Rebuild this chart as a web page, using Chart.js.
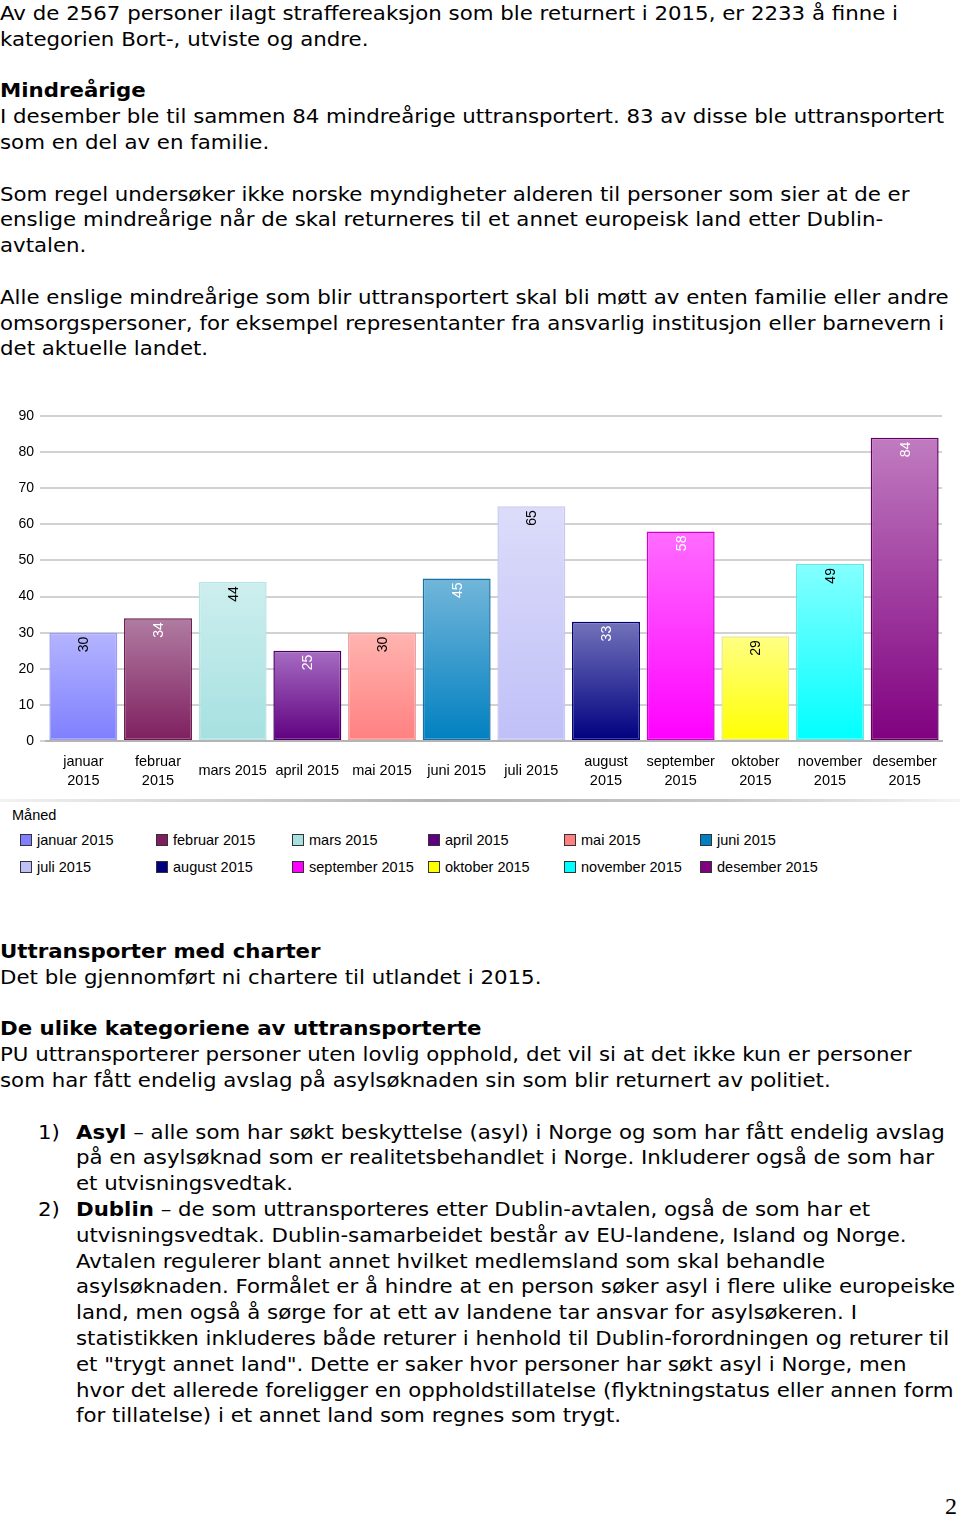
<!DOCTYPE html>
<html>
<head>
<meta charset="utf-8">
<script src="https://cdn.jsdelivr.net/npm/chart.js@4"></script>
<style>
  :root { --k: 1; }
  body { margin: 0; width: 960px; height: 1519px; position: relative; background: #fff; overflow: hidden; }
  .txt { position: absolute; left: 0; font-family: "DejaVu Sans", Verdana, sans-serif; font-size: 20px; line-height: 25.8px; color: #000; }
  .ln { white-space: nowrap; transform: scaleX(var(--k)); transform-origin: 0 0; height: 25.8px; }
  .gap { height: 25.8px; }
  .num { display: inline-block; width: calc(38px / var(--k)); }
  #chartBox { position: absolute; left: 0; top: 400px; width: 960px; height: 400px; }
  #frameLine { position: absolute; left: 0; top: 799px; width: 960px; height: 3px;
    background: linear-gradient(to right, #f2f2f2, #b4b4b4 45%, #c8c8c8 75%, #f4f4f4); }
  #legend { position: absolute; left: 0; top: 807px; font-family: "Liberation Sans", Arial, sans-serif; font-size: 14.5px; color: #000; }
  #legendTitle { position: absolute; left: 12px; top: 0; white-space: nowrap; }
  .item { position: absolute; white-space: nowrap; }
  .sw { display: inline-block; width: 10px; height: 10px; border: 1px solid #333; vertical-align: -1px; margin-right: 5px; }
  #pageNo { position: absolute; right: 3px; top: 1493px; font-family: "Liberation Serif", serif; font-size: 24px; }
</style>
</head>
<body>

<div class="txt" id="block1" style="top:1px">
  <div class="ln"><span id="ref">Av de 2567 personer ilagt straffereaksjon som ble returnert i 2015, er 2233 å finne i</span></div>
  <div class="ln">kategorien Bort-, utviste og andre.</div>
  <div class="gap"></div>
  <div class="ln"><b>Mindreårige</b></div>
  <div class="ln">I desember ble til sammen 84 mindreårige uttransportert. 83 av disse ble uttransportert</div>
  <div class="ln">som en del av en familie.</div>
  <div class="gap"></div>
  <div class="ln">Som regel undersøker ikke norske myndigheter alderen til personer som sier at de er</div>
  <div class="ln">enslige mindreårige når de skal returneres til et annet europeisk land etter Dublin-</div>
  <div class="ln">avtalen.</div>
  <div class="gap"></div>
  <div class="ln">Alle enslige mindreårige som blir uttransportert skal bli møtt av enten familie eller andre</div>
  <div class="ln">omsorgspersoner, for eksempel representanter fra ansvarlig institusjon eller barnevern i</div>
  <div class="ln">det aktuelle landet.</div>
</div>

<div id="chartBox"><canvas id="chart" width="960" height="400"></canvas></div>
<div id="frameLine"></div>
<div id="legend"><div id="legendTitle">Måned</div></div>

<div class="txt" id="block2" style="top:939px">
  <div class="ln"><b>Uttransporter med charter</b></div>
  <div class="ln">Det ble gjennomført ni chartere til utlandet i 2015.</div>
  <div class="gap"></div>
  <div class="ln"><b>De ulike kategoriene av uttransporterte</b></div>
  <div class="ln">PU uttransporterer personer uten lovlig opphold, det vil si at det ikke kun er personer</div>
  <div class="ln">som har fått endelig avslag på asylsøknaden sin som blir returnert av politiet.</div>
  <div class="gap"></div>
  <div class="ln" style="margin-left:38px"><span class="num">1)</span><b>Asyl</b> – alle som har søkt beskyttelse (asyl) i Norge og som har fått endelig avslag</div>
  <div class="ln" style="margin-left:76px">på en asylsøknad som er realitetsbehandlet i Norge. Inkluderer også de som har</div>
  <div class="ln" style="margin-left:76px">et utvisningsvedtak.</div>
  <div class="ln" style="margin-left:38px"><span class="num">2)</span><b>Dublin</b> – de som uttransporteres etter Dublin-avtalen, også de som har et</div>
  <div class="ln" style="margin-left:76px">utvisningsvedtak. Dublin-samarbeidet består av EU-landene, Island og Norge.</div>
  <div class="ln" style="margin-left:76px">Avtalen regulerer blant annet hvilket medlemsland som skal behandle</div>
  <div class="ln" style="margin-left:76px">asylsøknaden. Formålet er å hindre at en person søker asyl i flere ulike europeiske</div>
  <div class="ln" style="margin-left:76px">land, men også å sørge for at ett av landene tar ansvar for asylsøkeren. I</div>
  <div class="ln" style="margin-left:76px">statistikken inkluderes både returer i henhold til Dublin-forordningen og returer til</div>
  <div class="ln" style="margin-left:76px">et "trygt annet land". Dette er saker hvor personer har søkt asyl i Norge, men</div>
  <div class="ln" style="margin-left:76px">hvor det allerede foreligger en oppholdstillatelse (flyktningstatus eller annen form</div>
  <div class="ln" style="margin-left:76px">for tillatelse) i et annet land som regnes som trygt.</div>
</div>

<div id="pageNo">2</div>

<script>
// Data
const months = ['januar 2015', 'februar 2015', 'mars 2015', 'april 2015', 'mai 2015', 'juni 2015',
    'juli 2015', 'august 2015', 'september 2015', 'oktober 2015', 'november 2015', 'desember 2015'];
const tickLabels = [['januar', '2015'], ['februar', '2015'], 'mars 2015', 'april 2015', 'mai 2015', 'juni 2015',
    'juli 2015', ['august', '2015'], ['september', '2015'], ['oktober', '2015'], ['november', '2015'], ['desember', '2015']];
const values = [30, 34, 44, 25, 30, 45, 65, 33, 58, 29, 49, 84];
const yTicks = [0, 10, 20, 30, 40, 50, 60, 70, 80, 90];

// Colours (base = bottom of bar and legend swatch, top = light end of gradient)
const baseColors = ['#7f7fff', '#7f1f5f', '#a6e0e0', '#600080', '#ff8080', '#0080c0',
    '#c0c0f8', '#000080', '#ff00ff', '#ffff00', '#00ffff', '#800080'];
const topColors = ['#b4b4ff', '#b07ca2', '#cdeeee', '#a66cc2', '#ffb4b0', '#72b6da',
    '#dcdcfa', '#7272ba', '#ff6cff', '#ffff84', '#84ffff', '#c07cc0'];
const borderColors = ['#9c9cf0', '#6a1a50', '#b8e4e4', '#4a0064', '#f0a0a0', '#1a70a6',
    '#c8c8f0', '#000070', '#d000d0', '#e8e890', '#60e8e8', '#640064'];
const labelColors = ['#000', '#fff', '#000', '#fff', '#000', '#fff',
    '#000', '#fff', '#fff', '#000', '#000', '#fff'];

// Fit the text width to the reference (Verdana is not installed)
const refWidth = document.getElementById('ref').getBoundingClientRect().width;
document.documentElement.style.setProperty('--k', (898 / refWidth).toFixed(4));

// Legend
const legend = document.getElementById('legend');
months.forEach((m, i) => {
    const item = document.createElement('div');
    item.className = 'item';
    item.style.left = (20 + (i % 6) * 136) + 'px';
    item.style.top = (i < 6 ? 25 : 52) + 'px';
    item.innerHTML = `<span class="sw" style="background:${baseColors[i]}"></span>${m}`;
    legend.appendChild(item);
});

// Value labels, rotated inside the top of each bar
const barLabels = {
    id: 'barLabels',
    afterDatasetsDraw(chart) {
        const ctx = chart.ctx;
        const meta = chart.getDatasetMeta(0);
        ctx.save();
        ctx.font = '14px "Liberation Sans", Arial, sans-serif';
        ctx.textAlign = 'right';
        ctx.textBaseline = 'middle';
        meta.data.forEach((bar, i) => {
            ctx.save();
            ctx.translate(bar.x + 1, bar.y + 4);
            ctx.rotate(-Math.PI / 2);
            ctx.fillStyle = labelColors[i];
            ctx.fillText(String(values[i]), 0, 0);
            ctx.restore();
        });
        ctx.restore();
    }
};

function barGradient(context) {
    const chart = context.chart;
    const i = context.dataIndex;
    const y = chart.scales.y;
    if (!chart.chartArea || !y) return baseColors[i];
    const top = y.getPixelForValue(values[i]);
    const bottom = y.getPixelForValue(0);
    const g = chart.ctx.createLinearGradient(0, top, 0, bottom);
    g.addColorStop(0, topColors[i]);
    g.addColorStop(1, baseColors[i]);
    return g;
}

new Chart(document.getElementById('chart'), {
    type: 'bar',
    data: {
        labels: tickLabels,
        datasets: [{
            data: values,
            backgroundColor: barGradient,
            borderColor: borderColors,
            borderWidth: 1.5,
            borderSkipped: false,
            barPercentage: 0.91,
            categoryPercentage: 1
        }]
    },
    options: {
        responsive: false,
        animation: false,
        devicePixelRatio: 1,
        layout: { padding: { top: 16, right: 18, left: 0, bottom: 0 } },
        plugins: {
            legend: { display: false },
            tooltip: { enabled: false }
        },
        scales: {
            x: {
                grid: { display: false, drawTicks: false },
                border: { display: true, color: '#b4b4b4', width: 2 },
                ticks: {
                    color: '#000',
                    font: { family: '"Liberation Sans", Arial, sans-serif', size: 14.5, lineHeight: 1.3 },
                    padding: 21,
                    maxRotation: 0,
                    autoSkip: false,
                    crossAlign: 'center'
                },
                afterFit: s => { s.height = 59; }
            },
            y: {
                min: 0,
                max: 90,
                afterBuildTicks: s => { s.ticks = yTicks.map(v => ({ value: v })); },
                grid: { color: '#d2d2d2', lineWidth: 2, tickLength: 6, drawTicks: true },
                border: { display: false },
                ticks: {
                    color: '#000',
                    font: { family: '"Liberation Sans", Arial, sans-serif', size: 14 },
                    padding: 6
                },
                afterFit: s => { s.width = 46; }
            }
        }
    },
    plugins: [barLabels]
});
</script>
</body>
</html>
